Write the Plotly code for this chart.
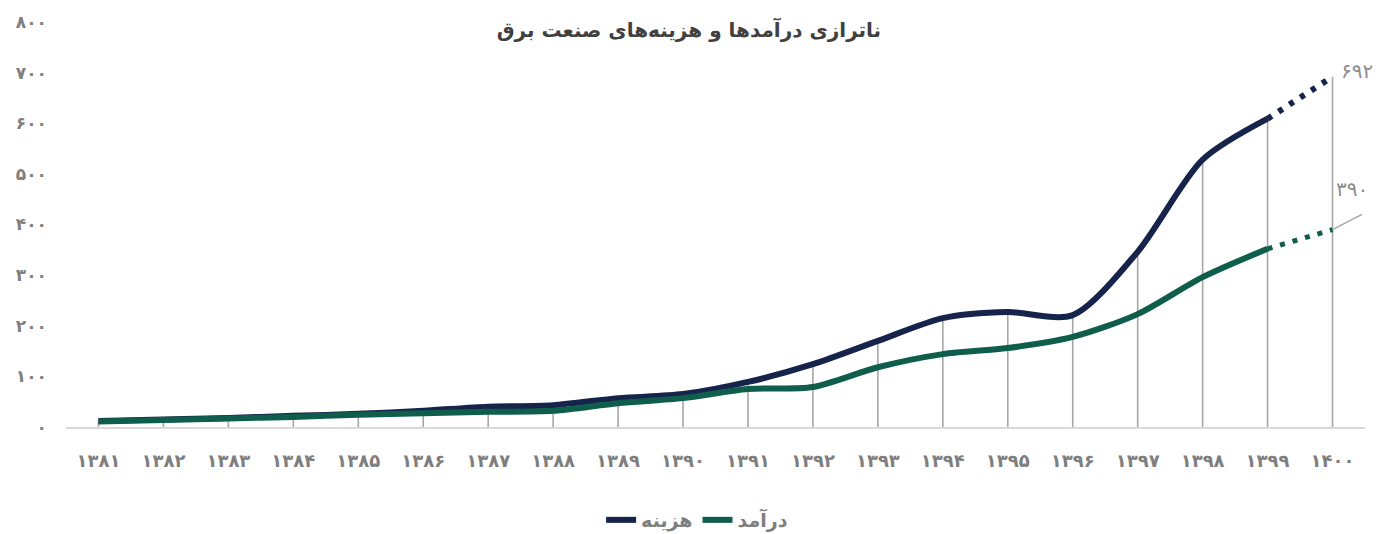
import plotly.graph_objects as go

# years (solar hijri) and values
years = list(range(1381, 1401))
cost = [12, 15, 18, 22, 26, 32, 40, 43, 57, 65, 89, 124, 170, 215, 227, 221, 346, 528, 609, 692]
revenue = [11, 14, 17, 20, 24, 27, 30, 32, 47, 57, 75, 79, 118, 144, 156, 178, 223, 296, 352, 390]
y_ticks = [0, 100, 200, 300, 400, 500, 600, 700, 800]

NAVY = "#16234a"
GREEN = "#0f5e4c"
GREY = "#7f7f7f"
FONT = "DejaVu Sans"

FA = str.maketrans("0123456789", "۰۱۲۳۴۵۶۷۸۹")


def fa(n):
    return str(n).translate(FA)


cats = [fa(y) for y in years]

fig = go.Figure()

# vertical drop lines from each point down to zero
dx, dy = [], []
for c, a, b in zip(cats, cost, revenue):
    dx += [c, c, None]
    dy += [0, max(a, b), None]
fig.add_trace(go.Scatter(x=dx, y=dy, mode="lines", line=dict(color="#a6a6a6", width=1.6),
                         hoverinfo="skip", showlegend=False))

# solid part (up to 1399) and dotted forecast (1399 -> 1400)
fig.add_trace(go.Scatter(x=cats[:-1], y=cost[:-1], mode="lines", name="هزینه",
                         line=dict(color=NAVY, width=6, shape="spline", smoothing=0.8)))
fig.add_trace(go.Scatter(x=cats[:-1], y=revenue[:-1], mode="lines", name="درآمد",
                         line=dict(color=GREEN, width=6, shape="spline", smoothing=0.8)))
fig.add_trace(go.Scatter(x=cats[-2:], y=cost[-2:], mode="lines", showlegend=False,
                         line=dict(color=NAVY, width=6, dash="5px,8px")))
fig.add_trace(go.Scatter(x=cats[-2:], y=revenue[-2:], mode="lines", showlegend=False,
                         line=dict(color=GREEN, width=5, dash="5px,8px")))

# end labels
fig.add_annotation(x=cats[-1], y=cost[-1], text=fa(cost[-1]), showarrow=False,
                   xshift=24, yshift=6, font=dict(family=FONT, size=20, color="#8c8c8c"))
fig.add_annotation(x=cats[-1], y=revenue[-1], text=" ", showarrow=True, arrowhead=0,
                   arrowwidth=1.5, arrowcolor="#a6a6a6", ax=31, ay=-16,
                   font=dict(size=1))
fig.add_annotation(x=cats[-1], y=revenue[-1], text=fa(revenue[-1]), showarrow=False,
                   xshift=19, yshift=41, font=dict(family=FONT, size=20, color="#8c8c8c"))

H = 526
fig.update_layout(
    width=1370, height=H,
    margin=dict(l=58, r=13, t=14, b=107, autoexpand=False),
    paper_bgcolor="white", plot_bgcolor="white",
    font=dict(family=FONT, color=GREY),
    title=dict(text="<b>ناترازی درآمدها و هزینه‌های صنعت برق</b>", x=0.497, xanchor="center",
               y=1 - 22 / H, yanchor="middle",
               font=dict(family=FONT, size=20, color="#404040")),
    legend=dict(orientation="h", xref="container", yref="container",
                x=0.503, xanchor="center", y=14 / H, yanchor="middle",
                font=dict(family=FONT, size=19, color=GREY, weight="bold")),
    showlegend=True,
)
fig.update_xaxes(type="category", categoryorder="array", categoryarray=cats,
                 range=[-0.5, len(cats) - 0.5], automargin=False,
                 showgrid=False, showline=True, linecolor="#d9d9d9", linewidth=2,
                 ticks="", ticklabelstandoff=16,
                 tickfont=dict(family=FONT, size=18, color=GREY, weight="bold"))
fig.update_yaxes(range=[0, 800], showgrid=False, zeroline=False, showline=False,
                 automargin=False,
                 tickvals=y_ticks, ticktext=[fa(v) for v in y_ticks], ticks="",
                 ticklabelstandoff=18,
                 tickfont=dict(family=FONT, size=17, color=GREY, weight="bold"))

fig.write_html("out.html")
